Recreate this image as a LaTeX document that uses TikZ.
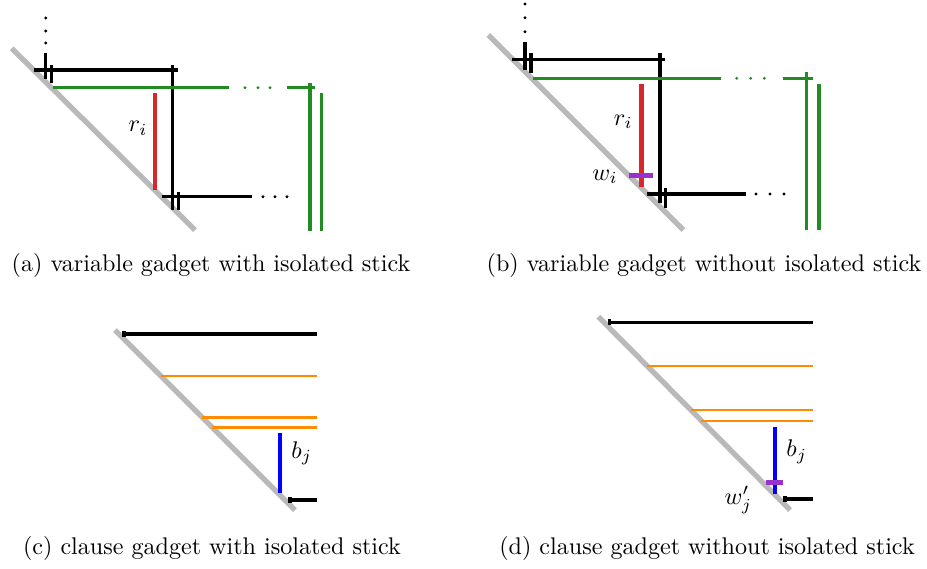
\documentclass[tikz,border=0pt]{standalone}
\usepackage{amsmath,amssymb}
\usepackage{xcolor}
\usepackage{tikz}

\definecolor{stickred}{RGB}{214,40,40}
\definecolor{stickgreen}{RGB}{34,139,34}
\definecolor{stickorange}{RGB}{255,140,0}
\definecolor{stickblue}{RGB}{0,0,255}
\definecolor{stickpurple}{RGB}{153,50,204}

\begin{document}
\begin{tikzpicture}[x=0.415pt, y=-0.415pt]
    \tikzstyle{wall} = [draw, line width=2.2pt, gray!55]
    \tikzstyle{stick} = [draw, line width=1.3pt, black]
    \tikzstyle{gstick} = [draw, line width=1.3pt, stickgreen]
    \tikzstyle{ostick} = [draw, line width=1.1pt, stickorange]
    \tikzstyle{rstick} = [draw, line width=2pt, stickred]
    \tikzstyle{bstick} = [draw, line width=1.7pt, stickblue]
    \tikzstyle{wstick} = [draw, line width=2pt, stickpurple]
    \tikzstyle{dot} = [circle, fill, inner sep=0pt, minimum size=1.3pt]
    \tikzstyle{caption} = [anchor=base]

    \useasboundingbox (0,0) rectangle (927,568);

    % (a) variable gadget with isolated stick
    \path [wall] (11.7,48.3) -- (195,230);
    \foreach \y in {18,31,43} \node [dot] at (45.7,\y) {};
    \path [stick] (45.7,53) -- (45.7,79);
    \path [stick] (51.7,65) -- (51.7,83);
    \path [stick] (34,70) -- (178,70);
    \path [stick] (172.3,65) -- (172.3,210);
    \path [stick] (178.3,192) -- (178.3,210);
    \path [stick] (162,196.7) -- (252,196.7);
    \foreach \x in {263,275,287} \node [dot] at (\x,196.7) {};
    \path [gstick] (53,87.7) -- (229,87.7);
    \foreach \x in {245,258,270} \node [dot, stickgreen] at (\x,87.7) {};
    \path [gstick] (287,87.7) -- (315,87.7);
    \path [gstick] (310,83) -- (310,231);
    \path [gstick] (321.7,93.3) -- (321.7,231);
    \path [rstick] (155,93) -- (155,190);
    \node (ra) at (138,128) {$r_i$};
    \node [caption] (capa) at (211,271) {(a) variable gadget with isolated stick};

    % (b) variable gadget without isolated stick
    \path [wall] (488.3,35) -- (683.3,230);
    \foreach \y in {4,17.7,31.7} \node [dot] at (525,\y) {};
    \path [stick] (525,41.7) -- (525,70);
    \path [stick] (531,53) -- (531,73);
    \path [stick] (512,59.3) -- (665,59.3);
    \path [stick] (660,53) -- (660,203);
    \path [stick] (665.7,188) -- (665.7,208);
    \path [stick] (647,194) -- (746,194);
    \foreach \x in {756,770,784} \node [dot] at (\x,194) {};
    \path [gstick] (533,78.3) -- (720.7,78.3);
    \foreach \x in {736.7,750.7,764.3} \node [dot, stickgreen] at (\x,78.3) {};
    \path [gstick] (782.7,78.3) -- (812.7,78.3);
    \path [gstick] (806.7,71.7) -- (806.7,230);
    \path [gstick] (819,84) -- (819,230);
    \path [rstick] (641.7,84) -- (641.7,187);
    \path [wstick] (629,175.7) -- (653.3,175.7);
    \node (rb) at (623.3,121.7) {$r_i$};
    \node (wb) at (605,176.7) {$w_i$};
    \node [caption] (capb) at (704,271) {(b) variable gadget without isolated stick};

    % (c) clause gadget with isolated stick
    \path [wall] (115,330) -- (295,510);
    \path [stick] (124,334) -- (316.7,334);
    \path [stick] (124,331) -- (124,337);
    \path [ostick] (161,376) -- (316.7,376);
    \path [ostick] (202.3,417.3) -- (316.7,417.3);
    \path [ostick] (212.3,427.3) -- (316.7,427.3);
    \path [bstick] (280,433.3) -- (280,493);
    \path [stick] (290,500) -- (316.7,500);
    \path [stick] (290,497) -- (290,503);
    \node (bc) at (301.7,453.3) {$b_j$};
    \node [caption] (capc) at (212,554) {(c) clause gadget with isolated stick};

    % (d) clause gadget without isolated stick
    \path [wall] (598.3,316.7) -- (790,510);
    \path [stick] (609.3,322.3) -- (813.3,322.3);
    \path [stick] (609.3,319.3) -- (609.3,325.3);
    \path [ostick] (647,366) -- (813.3,366);
    \path [ostick] (690.5,410) -- (813.3,410);
    \path [ostick] (701.4,421) -- (813.3,421);
    \path [bstick] (775,427.3) -- (775,494);
    \path [wstick] (765.5,482.3) -- (783.3,482.3);
    \path [stick] (785,499) -- (813.3,499);
    \path [stick] (785,496) -- (785,502);
    \node (bd) at (796.7,451.7) {$b_j$};
    \node (wd) at (738.3,500) {$w'_j$};
    \node [caption] (capd) at (707,554) {(d) clause gadget without isolated stick};
\end{tikzpicture}
\end{document}
